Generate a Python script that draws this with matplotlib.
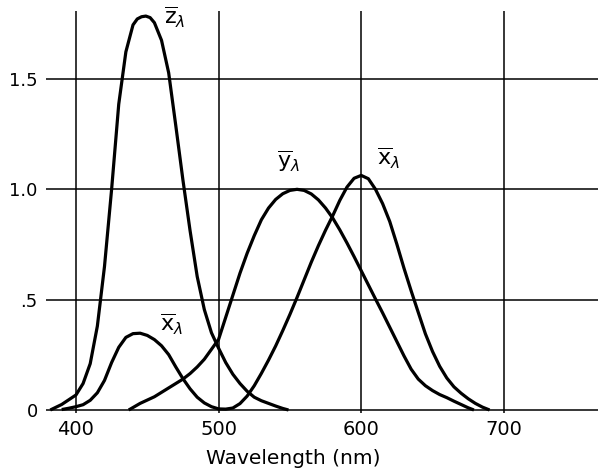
import matplotlib
matplotlib.use("Agg")
import matplotlib.pyplot as plt

plt.rcParams['font.family'] = ['DejaVu Sans']
plt.rcParams['mathtext.fontset'] = 'dejavusans'

# ---- data ----
z_wl = [382, 390, 400, 405, 410, 415, 420, 425, 430, 435, 440, 443, 446, 449, 452,
        455, 460, 465, 470, 475, 480, 485, 490, 495, 500, 505, 510, 515, 520, 525,
        530, 535, 540, 545, 549]
z_val = [0.0, 0.025, 0.068, 0.12, 0.21, 0.38, 0.65, 1.0, 1.386, 1.623, 1.745, 1.772,
         1.782, 1.785, 1.778, 1.755, 1.675, 1.528, 1.288, 1.042, 0.813, 0.605, 0.455,
         0.35, 0.28, 0.215, 0.162, 0.12, 0.085, 0.058, 0.042, 0.03, 0.018, 0.007, 0.0]

x_wl = [390, 395, 400, 405, 410, 415, 420, 425, 430, 435, 440, 445, 450, 455, 460,
        465, 470, 475, 480, 485, 490, 495, 500, 505, 510, 515, 520, 525, 530, 535,
        540, 545, 550, 555, 560, 565, 570, 575, 580, 585, 590, 595, 600, 605, 610,
        615, 620, 625, 630, 635, 640, 645, 650, 655, 660, 665, 670, 675, 680, 685, 690]
x_val = [0.002, 0.008, 0.015, 0.024, 0.044, 0.078, 0.134, 0.215, 0.284, 0.329, 0.346,
         0.348, 0.338, 0.319, 0.291, 0.251, 0.195, 0.142, 0.096, 0.058, 0.032, 0.015,
         0.005, 0.004, 0.009, 0.029, 0.063, 0.110, 0.166, 0.226, 0.290, 0.360, 0.433,
         0.510, 0.59, 0.67, 0.745, 0.815, 0.88, 0.95, 1.01, 1.05, 1.063, 1.048, 1.0,
         0.935, 0.854, 0.751, 0.642, 0.540, 0.442, 0.345, 0.265, 0.198, 0.145, 0.105,
         0.076, 0.051, 0.03, 0.013, 0.0]

y_wl = [437, 445, 450, 455, 460, 465, 470, 475, 480, 485, 490, 495, 500, 505, 510,
        515, 520, 525, 530, 535, 540, 545, 550, 555, 560, 565, 570, 575, 580, 585,
        590, 595, 600, 605, 610, 615, 620, 625, 630, 635, 640, 645, 650, 655, 660,
        665, 670, 675, 679]
y_val = [0.0, 0.03, 0.045, 0.06, 0.08, 0.10, 0.12, 0.14, 0.165, 0.195, 0.23, 0.275,
         0.32, 0.42, 0.52, 0.62, 0.71, 0.79, 0.862, 0.915, 0.954, 0.98, 0.995, 1.0,
         0.995, 0.979, 0.952, 0.915, 0.87, 0.816, 0.757, 0.695, 0.631, 0.567, 0.503,
         0.44, 0.375, 0.31, 0.245, 0.185, 0.14, 0.11, 0.088, 0.07, 0.056, 0.04,
         0.025, 0.01, 0.0]

x_ticks = [400, 500, 600, 700]
x_tick_labels = ['400', '500', '600', '700']
y_ticks = [0, 0.5, 1.0, 1.5]
y_tick_labels = ['0', '.5', '1.0', '1.5']

curve_labels = [r'$\overline{\mathrm{z}}_{\lambda}$', r'$\overline{\mathrm{y}}_{\lambda}$',
                r'$\overline{\mathrm{x}}_{\lambda}$', r'$\overline{\mathrm{x}}_{\lambda}$']
label_pos = [(462, 1.835), (541, 1.185), (611, 1.195), (459, 0.445)]

# ---- figure ----
fig = plt.figure(figsize=(5.98, 4.70), dpi=100)
ax = fig.add_axes([46/598, 1-413/470, 552/598, 402/470])
ax.set_xlim(379, 766)
ax.set_ylim(-0.0136, 1.808)

for s in ax.spines.values():
    s.set_visible(False)

for xv in x_ticks:
    ax.axvline(xv, color='black', lw=1.1, zorder=1)
for yv in y_ticks:
    ax.axhline(yv, color='black', lw=1.1, zorder=1)

for wl, val in [(z_wl, z_val), (x_wl, x_val), (y_wl, y_val)]:
    ax.plot(wl, val, color='black', lw=2.3, solid_capstyle='butt',
            solid_joinstyle='round', zorder=3)

for lab, (px, py) in zip(curve_labels, label_pos):
    ax.text(px, py, lab, fontsize=16, ha='left', va='top', color='black',
            clip_on=False)

ax.set_xticks(x_ticks)
ax.set_xticklabels(x_tick_labels, fontsize=14)
ax.set_yticks(y_ticks)
ax.set_yticklabels(y_tick_labels, fontsize=13)
ax.tick_params(length=0, pad=6)
ax.tick_params(axis='x', pad=5)

ax.set_xlabel('Wavelength (nm)', fontsize=14.5, labelpad=2)
ax.xaxis.set_label_coords((293-46)/552, -0.09)

fig.savefig('out.png', dpi=100)
